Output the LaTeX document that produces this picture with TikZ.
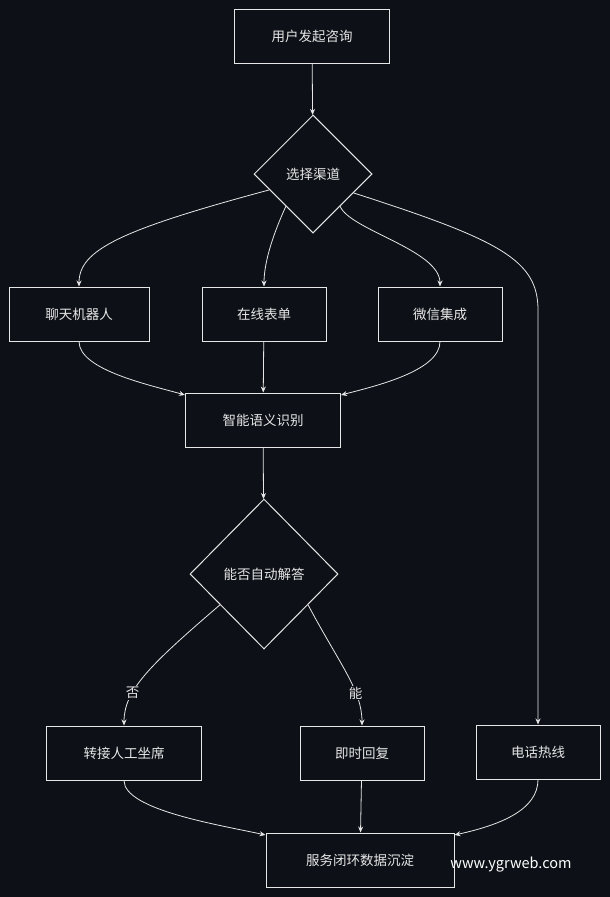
\documentclass[tikz,border=0pt]{standalone}
\usepackage{fontspec}
\setmainfont{Noto Sans CJK SC}
\usetikzlibrary{shapes.geometric,arrows.meta}
\definecolor{bg}{HTML}{0D1117}
\definecolor{fg}{HTML}{E6E6E6}
\begin{document}
\begin{tikzpicture}[x=1pt,y=-1pt,
  box/.style={draw=fg,line width=1pt,text=fg,minimum height=54pt,inner sep=0pt,font=\fontsize{13.5}{15}\selectfont},
  dia/.style={draw=fg,line width=1pt,text=fg,diamond,aspect=1,inner sep=0pt,font=\fontsize{13.5}{15}\selectfont},
  arr/.style={draw=fg,line width=0.8pt,-{Stealth[length=6pt,width=5pt]}},
  lab/.style={fill=bg,text=fg,inner sep=1pt,font=\fontsize{13.5}{15}\selectfont}]
\fill[bg] (0,0) rectangle (610,897);
\useasboundingbox (0,0) rectangle (610,897);
\node[box,minimum width=155pt] (n1) at (312,36) {用户发起咨询};
\node[dia,minimum width=118pt,minimum height=118pt] (d1) at (313,174) {选择渠道};
\node[box,minimum width=140pt] (a) at (79,314) {聊天机器人};
\node[box,minimum width=124pt] (b) at (264,314) {在线表单};
\node[box,minimum width=124pt] (c) at (440,314) {微信集成};
\node[box,minimum width=155pt] (s) at (263,420) {智能语义识别};
\node[dia,minimum width=148pt,minimum height=150pt] (d2) at (264,574) {能否自动解答};
\node[box,minimum width=155pt] (h) at (124,753) {转接人工坐席};
\node[box,minimum width=124pt] (r) at (362,753) {即时回复};
\node[box,minimum width=124pt] (p) at (538,752) {电话热线};
\node[box,minimum width=188pt] (f) at (360,860) {服务闭环数据沉淀};
\node[text=white,font=\fontsize{14.5}{16}\selectfont] (w) at (511,865) {www.ygrweb.com};
\draw[arr] (n1) -- (d1);
\draw[arr] (d1.200) .. controls (120,230) and (79,250) .. (a.north);
\draw[arr] (d1.230) .. controls (275,230) and (264,260) .. (b.north);
\draw[arr] (d1.310) .. controls (350,230) and (440,250) .. (c.north);
\draw[arr] (d1.335) .. controls (500,240) and (538,260) .. (538,310) -- (p.north);
\draw[arr] (a.south) .. controls (79,370) and (150,385) .. (s.west|-0,395);
\draw[arr] (b) -- (s);
\draw[arr] (c.south) .. controls (440,370) and (380,385) .. (s.east|-0,395);
\draw[arr] (s) -- (d2);
\draw[arr] (d2.215) .. controls (150,665) and (124,690) .. node[lab,pos=0.68]{否} (h.north);
\draw[arr] (d2.325) .. controls (340,665) and (362,690) .. node[lab,pos=0.68]{能} (r.north);
\draw[arr] (h.south) .. controls (124,810) and (220,825) .. (f.west|-0,835);
\draw[arr] (r) -- (f);
\draw[arr] (p.south) .. controls (538,810) and (500,825) .. (f.east|-0,835);
\end{tikzpicture}
\end{document}
